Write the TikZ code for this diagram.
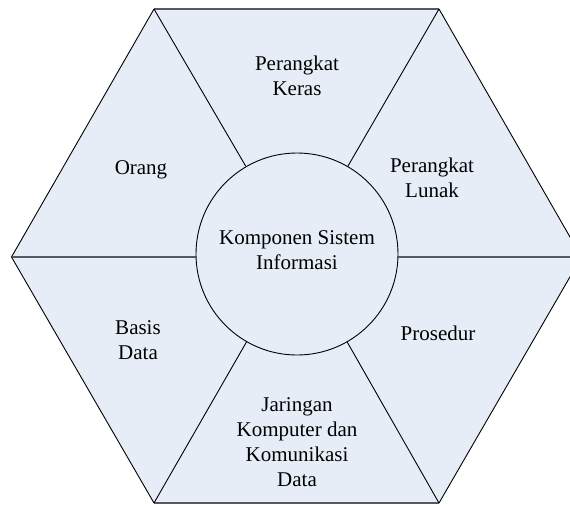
\documentclass[tikz,border=0pt]{standalone}
\usepackage{fontspec}
\setmainfont{Liberation Serif}
\definecolor{hexfill}{RGB}{231,237,247}
\definecolor{hline}{RGB}{85,88,96}
\begin{document}
\begin{tikzpicture}[x=1pt,y=-1pt,
  edge/.style={draw=black,line width=0.9pt},
  hedge/.style={draw=hline,line width=1.6pt},
  lbl/.style={align=center,font=\fontsize{21}{25}\selectfont,inner sep=0pt}]
\clip (0,0) rectangle (570,504);
\coordinate (TL) at (154,9);
\coordinate (TR) at (439,9);
\coordinate (R) at (581.5,257);
\coordinate (BR) at (439,503);
\coordinate (BL) at (154,503);
\coordinate (L) at (11.5,257);
\fill[hexfill] (TL) -- (TR) -- (R) -- (BR) -- (BL) -- (L) -- cycle;
\draw[edge] (TR) -- (R) -- (BR);
\draw[edge] (BL) -- (L) -- (TL);
\draw[hedge] (TL) -- (TR);
\draw[hedge] (BR) -- (BL);
\node[circle,draw=black,line width=0.9pt,minimum size=202pt,inner sep=0pt] (C) at (297,254) {};
\draw[edge] (TL) -- (C);
\draw[edge] (TR) -- (C);
\draw[edge] (BL) -- (C);
\draw[edge] (BR) -- (C);
\draw[hedge] (L) -- (C.west |- L);
\draw[hedge] (R) -- (C.east |- R);
\node[lbl] (ksi) at (297,250) {Komponen Sistem\\Informasi};
\node[lbl] (pk) at (297,76) {Perangkat\\Keras};
\node[lbl] (or) at (141,170) {Orang};
\node[lbl] (pl) at (432,178) {Perangkat\\Lunak};
\node[lbl] (bd) at (138,340) {Basis\\Data};
\node[lbl] (pr) at (438,333) {Prosedur};
\node[lbl] (jk) at (297,442) {Jaringan\\Komputer dan\\Komunikasi\\Data};
\end{tikzpicture}
\end{document}
